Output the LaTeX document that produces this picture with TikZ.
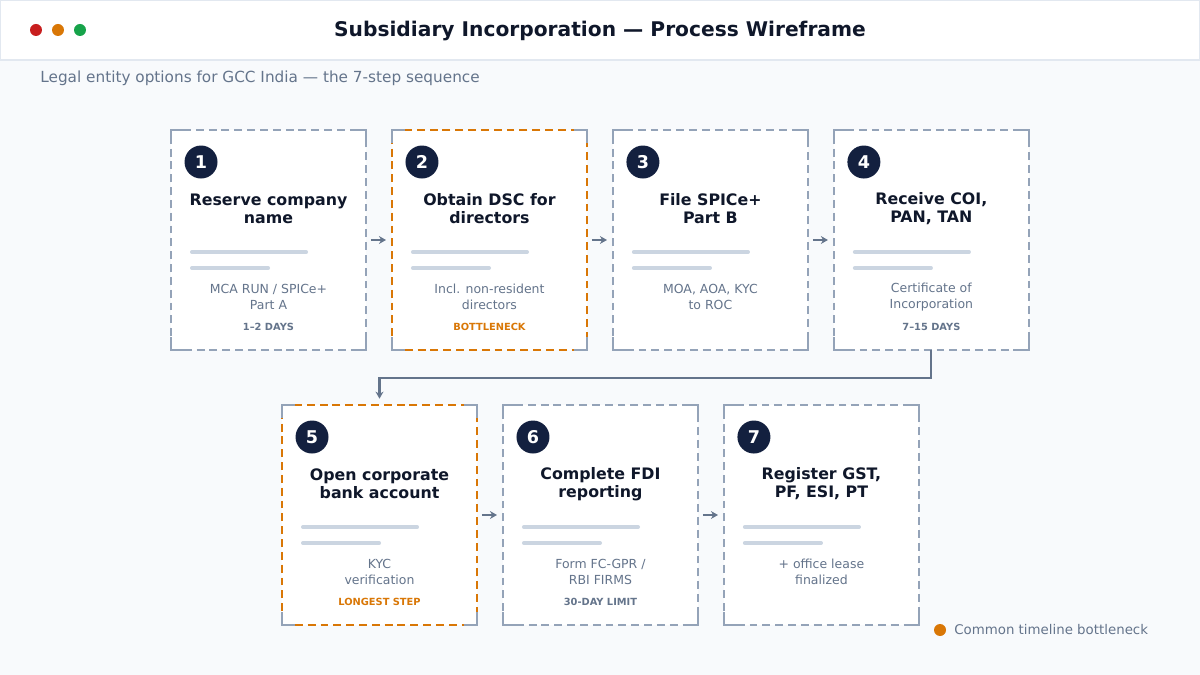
\documentclass[tikz,border=0pt]{standalone}
\usepackage{fontspec}
\setmainfont{DejaVu Sans}
\usepackage{xcolor}
\usepackage{tikz}
\usetikzlibrary{arrows.meta,positioning,calc}
\definecolor{wfnavy}{HTML}{0F172A}
\definecolor{wfbadge}{HTML}{13203F}
\definecolor{wfgray}{HTML}{64748B}
\definecolor{wfedge}{HTML}{94A3B8}
\definecolor{wfbar}{HTML}{CBD5E1}
\definecolor{wforange}{HTML}{D97706}
\definecolor{wfred}{HTML}{C81E1E}
\definecolor{wfgreen}{HTML}{16A34A}
\definecolor{wfpage}{HTML}{F8FAFC}
\definecolor{wfrule}{HTML}{E2E8F0}

\begin{document}
\begin{tikzpicture}[
    x=0.02cm, y=-0.02cm,
    card/.style={draw=wfedge, fill=white, line width=0.9pt,
                 dash pattern=on 4.5pt off 2.8pt, outer sep=0pt,
                 minimum width=3.9cm, minimum height=4.4cm, inner sep=0pt},
    hot/.style={card, draw=wforange},
    badge/.style={circle, fill=wfbadge, minimum size=0.66cm, inner sep=0pt,
                  text=white, font=\fontsize{10}{12}\selectfont\bfseries},
    ctitle/.style={align=center, inner sep=0pt, text=wfnavy,
                   font=\fontsize{9}{10.2}\selectfont\bfseries},
    cdesc/.style={align=center, inner sep=0pt, text=wfgray,
                  font=\fontsize{7.1}{9.1}\selectfont},
    ctag/.style={inner sep=0pt, text=wfgray,
                 font=\fontsize{5.6}{6.5}\selectfont\bfseries},
    bar/.style={draw=wfbar, line width=2.3pt, line cap=round},
    corner/.style={draw=wfedge, line width=0.9pt},
    flow/.style={draw=wfgray, line width=1.15pt,
                 -{Stealth[length=4pt,width=4.5pt]}},
    dot/.style={circle, minimum size=0.24cm, inner sep=0pt}
]
    \useasboundingbox[fill=wfpage] (0,0) rectangle (1200,675);

    % Header bar
    \fill[white] (0,0) rectangle (1200,60);
    \draw[wfrule, line width=0.6pt] (0,0) rectangle (1200,60);
    \node[dot, fill=wfred] (dotr) at (36,30) {};
    \node[dot, fill=wforange] (doto) at (58,30) {};
    \node[dot, fill=wfgreen] (dotg) at (80,30) {};
    \node[text=wfnavy, font=\fontsize{11.5}{13}\selectfont\bfseries] (head) at (600,31)
        {Subsidiary Incorporation — Process Wireframe};
    \node[anchor=west, inner sep=0pt, text=wfgray, font=\fontsize{8.7}{10}\selectfont] (sub)
        at (40,78) {Legal entity options for GCC India — the 7-step sequence};

    % Cards, first row
    \node[card] (name) at (268.5,240) {};
    \node[hot, right=0.52cm of name] (dsc) {};
    \node[card, right=0.52cm of dsc] (spice) {};
    \node[card, right=0.52cm of spice] (coi) {};

    % Cards, second row
    \node[hot] (bank) at (379.5,515) {};
    \node[card, right=0.52cm of bank] (fdi) {};
    \node[card, right=0.52cm of fdi] (gst) {};

    % Badges, placeholder bars and corner marks
    \foreach \c/\n in {name/1, dsc/2, spice/3, coi/4, bank/5, fdi/6, gst/7} {
        \node[badge] (\c-n) at ($(\c.north west)+(30,32)$) {\n};
        \draw[bar] ($(\c.north west)+(21,122)$) -- ++(114,0);
        \draw[bar] ($(\c.north west)+(21,138)$) -- ++(76,0);
        \draw[corner] ($(\c.north west)+(0,13)$) -- (\c.north west) -- ++(13,0);
        \draw[corner] ($(\c.north east)+(-13,0)$) -- (\c.north east) -- ++(0,13);
        \draw[corner] ($(\c.south east)+(0,-13)$) -- (\c.south east) -- ++(-13,0);
        \draw[corner] ($(\c.south west)+(13,0)$) -- (\c.south west) -- ++(0,-13);
    }

    % Step 1
    \node[ctitle] (name-t) at ($(name.north)+(0,79)$) {Reserve company\\name};
    \node[cdesc] (name-d) at ($(name.north)+(0,167)$) {MCA RUN / SPICe+\\Part A};
    \node[ctag] (name-g) at ($(name.north)+(0,197)$) {1–2 DAYS};

    % Step 2
    \node[ctitle] (dsc-t) at ($(dsc.north)+(0,79)$) {Obtain DSC for\\directors};
    \node[cdesc] (dsc-d) at ($(dsc.north)+(0,167)$) {Incl. non-resident\\directors};
    \node[ctag, text=wforange] (dsc-g) at ($(dsc.north)+(0,197)$) {BOTTLENECK};

    % Step 3
    \node[ctitle] (spice-t) at ($(spice.north)+(0,79)$) {File SPICe+\\Part B};
    \node[cdesc] (spice-d) at ($(spice.north)+(0,167)$) {MOA, AOA, KYC\\to ROC};

    % Step 4
    \node[ctitle] (coi-t) at ($(coi.north)+(0,79)$) {Receive COI,\\PAN, TAN};
    \node[cdesc] (coi-d) at ($(coi.north)+(0,167)$) {Certificate of\\Incorporation};
    \node[ctag] (coi-g) at ($(coi.north)+(0,197)$) {7–15 DAYS};

    % Step 5
    \node[ctitle] (bank-t) at ($(bank.north)+(0,79)$) {Open corporate\\bank account};
    \node[cdesc] (bank-d) at ($(bank.north)+(0,167)$) {KYC\\verification};
    \node[ctag, text=wforange] (bank-g) at ($(bank.north)+(0,197)$) {LONGEST STEP};

    % Step 6
    \node[ctitle] (fdi-t) at ($(fdi.north)+(0,79)$) {Complete FDI\\reporting};
    \node[cdesc] (fdi-d) at ($(fdi.north)+(0,167)$) {Form FC-GPR /\\RBI FIRMS};
    \node[ctag] (fdi-g) at ($(fdi.north)+(0,197)$) {30-DAY LIMIT};

    % Step 7
    \node[ctitle] (gst-t) at ($(gst.north)+(0,79)$) {Register GST,\\PF, ESI, PT};
    \node[cdesc] (gst-d) at ($(gst.north)+(0,167)$) {+ office lease\\finalized};

    % Arrows
    \draw[flow, shorten <=2.8pt, shorten >=3.4pt] (name.east) -- (dsc.west);
    \draw[flow, shorten <=2.8pt, shorten >=3.4pt] (dsc.east) -- (spice.west);
    \draw[flow, shorten <=2.8pt, shorten >=3.4pt] (spice.east) -- (coi.west);
    \draw[flow, shorten >=3.6pt] (coi.south) -- ++(0,28) -| (bank.north);
    \draw[flow, shorten <=2.8pt, shorten >=3.4pt] (bank.east) -- (fdi.west);
    \draw[flow, shorten <=2.8pt, shorten >=3.4pt] (fdi.east) -- (gst.west);

    % Legend
    \node[dot, fill=wforange] (key) at (940,630) {};
    \node[anchor=west, inner sep=0pt, text=wfgray, font=\fontsize{7.6}{9}\selectfont]
        (key-t) at (954,630) {Common timeline bottleneck};
\end{tikzpicture}
\end{document}
